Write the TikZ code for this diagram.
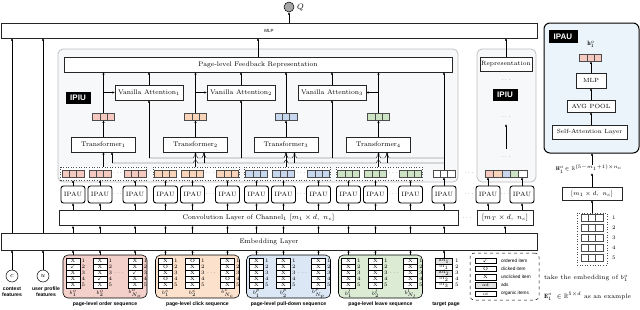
\documentclass[tikz,border=0pt]{standalone}
\usepackage{fontspec}
\setsansfont{Liberation Sans}
\usepackage{amssymb}
\usetikzlibrary{arrows.meta,calc}
\definecolor{vpink}{HTML}{F5C8C0}
\definecolor{vpeach}{HTML}{FAD4B8}
\definecolor{vblue}{HTML}{C7D7EE}
\definecolor{vgreen}{HTML}{CCE3C4}
\definecolor{gpink}{HTML}{F3D0CA}
\definecolor{gpeach}{HTML}{FCE1CD}
\definecolor{gblue}{HTML}{DCE7F6}
\definecolor{ggreen}{HTML}{DCEBD4}
\definecolor{ipiufill}{HTML}{F7F8FA}
\definecolor{ipaufill}{HTML}{EAF4FA}
\definecolor{adgray}{HTML}{E2E2E2}
\newcommand\fmain{\fontsize{6.7}{7.2}\selectfont}
\newcommand\fsmall{\fontsize{5.2}{5.6}\selectfont}
\newcommand\flab{\sffamily\bfseries\fontsize{5.1}{5.9}\selectfont}
\newcommand\fleg{\sffamily\fontsize{4.7}{5}\selectfont}
\newcommand\seqcol[4]{%
  \foreach \sy [count=\i] in {#3} {
    \node[cell] (#1r\i) at (#2,{255+6*\i}) {\sy};
    \node[num] at ({#2+10.5},{255+6*\i}) {\i};
  }
  \node[num] (#1l) at (#2,293.5) {#4};
}
\begin{document}
\begin{tikzpicture}[x=1pt,y=-1pt,
  every node/.style={inner sep=0pt,outer sep=0pt},
  arr/.style={-{Latex[length=2.6pt,width=2.2pt]},line width=0.45pt},
  ln/.style={line width=0.45pt},
  box/.style={draw=black!85,line width=0.55pt,fill=white,font=\fmain},
  ipau/.style={draw,line width=0.9pt,rounded corners=2.5pt,fill=white,minimum width=24pt,minimum height=17pt,font=\fontsize{6.2}{7}\selectfont},
  blk/.style={fill=black,text=white,font=\sffamily\bfseries\fontsize{8}{9}\selectfont,minimum width=25pt,minimum height=12pt},
  vec/.style={draw=black!70,line width=0.4pt,fill=#1,minimum width=22pt,minimum height=7.5pt,
    path picture={\draw[black!70,line width=0.4pt]
      ($(path picture bounding box.north west)!1/3!(path picture bounding box.north east)$) -- ($(path picture bounding box.south west)!1/3!(path picture bounding box.south east)$)
      ($(path picture bounding box.north west)!2/3!(path picture bounding box.north east)$) -- ($(path picture bounding box.south west)!2/3!(path picture bounding box.south east)$);}},
  cell/.style={draw,line width=0.4pt,fill=white,minimum width=14pt,minimum height=6pt,font=\fontsize{4.8}{5}\selectfont},
  num/.style={font=\fsmall},
  dots/.style={font=\fontsize{6}{6}\selectfont,text=black!60},
  grp/.style={draw,line width=0.6pt,rounded corners=5pt,minimum height=43pt,minimum width=84pt},
  dgrp/.style={draw=black!70,dotted,line width=0.6pt,fill=white,minimum height=13pt,minimum width=86pt},
  ipiubox/.style={draw=black!25,line width=0.8pt,fill=ipiufill,rounded corners=5pt,minimum height=133pt},
]
\useasboundingbox (0,0) rectangle (640,309);
% ---------- top ----------
\node[box,minimum width=536pt,minimum height=15pt,font=\sffamily\fontsize{4.5}{5}\selectfont] (mlp) at (269,30.5) {MLP};
\node[circle,draw,fill=black!35,minimum size=10pt,line width=0.5pt] (q) at (289,7) {};
\node[font=\fontsize{8}{9}\selectfont,anchor=west] (ql) at (297,8) {$Q$};
\draw[arr] (q.south |- mlp.north) -- (q.south);
% ---------- IPIU left ----------
\node[ipiubox,minimum width=400pt] (ipiu) at (258,115.5) {};
\node[box,minimum width=388pt,minimum height=15pt] (pfr) at (258,64.5) {Page-level Feedback Representation};
\draw[arr] (pfr.north) -- (pfr.north |- mlp.south);
\node[blk] (ipiul) at (78,97.5) {IPIU};
\foreach \n/\x in {1/149,2/241,3/332}
  \node[box,minimum width=68pt,minimum height=15pt] (va\n) at (\x,92.5) {Vanilla Attention$_\n$};
\foreach \n/\x/\c in {1/103.5/vpink,2/195.5/vpeach,3/286/vblue,4/378.5/vgreen} {
  \node[box,minimum width=64pt,minimum height=15pt] (t\n) at (\x,144.5) {Transformer$_\n$};
  \node[vec=\c] (o\n) at (\x,116.5) {};
  \draw[arr] (t\n.north) -- (o\n.south);
  \draw[arr] (o\n.north) -- (o\n.north |- pfr.south);
  \coordinate (ti\n) at ($(t\n.south)+(8.5,0)$);
}
\draw[arr] (o1.north |- va1.west) -- (va1.west);
\draw[arr] (o2.north |- va2.west) -- (va2.west);
\draw[arr] (o4.north |- va3.east) -- (va3.east);
\foreach \n in {1,2,3} \draw[arr] (va\n.north) -- (va\n.north |- pfr.south);
% ---------- dotted groups, IPAU ----------
\foreach \g/\l/\c in {1/60/vpink,2/152.5/vpeach,3/243.5/vblue,4/335.5/vgreen} {
  \node[dgrp] (d\g) at ({\l+43.5},173.5) {};
  \foreach \k/\o in {1/13,2/40,3/75} {
    \node[vec=\c] (v\g\k) at ({\l+\o},173.5) {};
    \node[ipau] (p\g\k) at ({\l+\o},194.5) {IPAU};
    \draw[arr] (p\g\k.north) -- (p\g\k.north |- d\g.south);
  }
  \node[dots] (dd\g) at ({\l+57.5},173.5) {$\cdots$};
  \node[dots] (dp\g) at ({\l+57.5},194.5) {$\cdots$};
}
% target
\node[vec=white] (vt) at (444,173.5) {};
\node[ipau] (pt) at (444,194.5) {IPAU};
\draw[arr] (pt.north) -- (vt.south);
% transformer inputs and buses
\foreach \n in {1,2,3,4} {
  \draw[arr] (t\n.south |- d\n.north) -- (t\n.south);
}
\coordinate (ba0) at (149,158);
\coordinate (bb0) at (112,163);
\draw[arr] (vt.north) -- (vt.north |- pfr.south);
\draw[ln] (ba0) foreach \h in {195.5,204,286,294.5,378.5,387} { -- ({\h-2},158) .. controls ({\h-2},154.6) and ({\h+2},154.6) .. ({\h+2},158) } -- (vt.north |- ba0);
\draw[ln] (bb0) foreach \h in {195.5,286,378.5} { -- ({\h-2},163) .. controls ({\h-2},159.6) and ({\h+2},159.6) .. ({\h+2},163) } -- (vt.north |- bb0);
\foreach \n in {1,2,3} \draw[arr] (va\n.south |- ba0) -- (va\n.south);
\foreach \n in {1,2,3,4} \draw[arr] (ti\n |- bb0) -- (ti\n);
% ---------- IPIU right ----------
\node[ipiubox,minimum width=59pt] (ipiu2) at (506.5,115.5) {};
\node[box,minimum width=52pt,minimum height=14pt,font=\fontsize{6.2}{7}\selectfont] (rep) at (506,64) {Representation};
\draw[arr] (rep.north) -- (rep.north |- mlp.south);
\node[dots] (dr1) at (506,80) {$\cdots$};
\node[blk] (ipiul2) at (505,94.5) {IPIU};
\node[dots,minimum height=14pt] (dr2) at (506,117) {$\cdots$};
\node[dots,minimum height=16pt] (dr3) at (506,157) {$\cdots$};
\draw[arr] (dr3.north) -- (dr2.south);
\foreach \i/\c in {1/vpink,2/vpeach,3/vblue,4/vgreen,5/white}
  \node[draw=black!70,line width=0.4pt,fill=\c,minimum width=8.4pt,minimum height=7.5pt] (cr\i) at ({480.8+8.4*\i},173.5) {};
\node[dots] (dm1) at (469,173.5) {$\cdots$};
\node[ipau] (pr1) at (488,194.5) {IPAU};
\node[ipau] (pr2) at (522,194.5) {IPAU};
\node[dots] (dm2) at (469,194.5) {$\cdots$};
\node[dots] (dm3) at (505,194.5) {$\cdots$};
\draw[arr] (pr1.north) -- (pr1.north |- cr1.south);
\draw[arr] (pr2.north) -- (pr2.north |- cr5.south);
% ---------- conv / embedding ----------
\node[box,minimum width=399pt,minimum height=15.5pt] (conv1) at (258.5,218) {Convolution Layer of Channel$_1$ $[m_1\times d,\ n_c]$};
\node[dots] (dm4) at (467,218) {$\cdots$};
\node[box,minimum width=56pt,minimum height=15.5pt] (conv2) at (505,218) {$[m_T\times d,\ n_c]$};
\node[box,minimum width=536pt,minimum height=17pt] (emb) at (269,241.5) {Embedding Layer};
\foreach \g in {1,2,3,4} \foreach \k in {1,2,3} {
  \draw[arr] (p\g\k.south |- conv1.north) -- (p\g\k.south);
  \draw[arr] (p\g\k.south |- emb.north) -- (p\g\k.south |- conv1.south);
}
\draw[arr] (pt.south |- conv1.north) -- (pt.south);
\draw[arr] (pt.south |- emb.north) -- (pt.south |- conv1.south);
\draw[arr] (pr1.south |- conv2.north) -- (pr1.south);
\draw[arr] (pr2.south |- conv2.north) -- (pr2.south);
\draw[arr] (conv2.south |- emb.north) -- (conv2.south);
% ---------- context / user ----------
\node[circle,draw,line width=0.5pt,minimum size=12pt,font=\fmain] (cc) at (12,276) {$c$};
\node[circle,draw,line width=0.5pt,minimum size=12pt,font=\fmain] (cu) at (43,276) {$u$};
\node[font=\flab,align=center] (ccl) at (12,292) {context\\features};
\node[font=\flab,align=center] (cul) at (46,292) {user profile\\features};
\draw[arr] (cc.north) -- (cc.north |- emb.south);
\draw[arr] (cu.north) -- (cu.north |- emb.south);
\draw[arr] (cc.north |- emb.north) -- (cc.north |- mlp.south);
\draw[arr] (cu.north |- emb.north) -- (cu.north |- mlp.south);
% ---------- behaviour sequences ----------
\foreach \g/\l/\c/\t in {1/60/gpink/page-level order sequence,2/152.5/gpeach/page-level click sequence,3/243.5/gblue/page-level pull-down sequence,4/335.5/ggreen/page-level leave sequence} {
  \node[grp,fill=\c] (b\g) at ({\l+45},276.5) {};
  \node[font=\flab] (bl\g) at ({\l+45},304.5) {\t};
  \node[dots] (bd\g) at ({\l+59},273) {$\cdots$};
  \foreach \k in {1,2,3}
    \draw[arr] (p\g\k.south |- b\g.north) -- (p\g\k.south |- emb.south);
}
\seqcol{a1}{73}{X,$\checkmark$,X,X,X}{$b^o_1$}
\seqcol{a2}{100}{X,X,X,$\checkmark$,X}{$b^o_2$}
\seqcol{a3}{135}{X,X,$\checkmark$,X,X}{$b^o_{N_o}$}
\seqcol{c1}{165.5}{X,O,X,O,X}{$b^c_1$}
\seqcol{c2}{192.5}{O,X,X,X,X}{$b^c_2$}
\seqcol{c3}{227.5}{X,X,X,O,X}{$b^c_{N_c}$}
\seqcol{e1}{256.5}{X,X,X,X,X}{$b^p_1$}
\seqcol{e2}{283.5}{X,X,X,X,X}{$b^p_2$}
\seqcol{e3}{318.5}{X,X,X,X,X}{$b^p_{N_p}$}
\seqcol{f1}{348.5}{X,X,X,X,X}{$b^l_1$}
\seqcol{f2}{375.5}{X,X,X,X,X}{$b^l_2$}
\seqcol{f3}{410.5}{X,X,X,X,X}{$b^l_{N_l}$}
% target page
\foreach \sy/\fc [count=\i] in {ad$_1$/adgray,oi$_1$/white,ad$_2$/adgray,oi$_2$/white,oi$_3$/white} {
  \node[cell,minimum width=17pt,fill=\fc] (tr\i) at (444,{255+6*\i}) {\sy};
  \node[num] at (457,{255+6*\i}) {\i};
}
\node[font=\flab] (trl) at (446,304.5) {target page};
\draw[arr] (tr1.north) -- (tr1.north |- emb.south);
% ---------- legend ----------
\node[draw,dashed,line width=0.5pt,rounded corners=4pt,minimum width=69pt,minimum height=47pt] (leg) at (504.5,276.5) {};
\foreach \sy/\t/\fc [count=\i] in {$\checkmark$/ordered item/white,O/clicked item/white,X/unclicked item/white,ad/ads/adgray,oi/organic items/white} {
  \node[cell,minimum width=21pt,minimum height=5.5pt,fill=\fc] (lg\i) at (485.5,{252.5+8.2*\i}) {\sy};
  \node[font=\fleg,anchor=west] (lt\i) at (501,{252.5+8.2*\i}) {\t};
}
% ---------- IPAU detail panel ----------
\node[draw,line width=1pt,rounded corners=6pt,fill=ipaufill,minimum width=95pt,minimum height=130pt] (pan) at (591.5,88) {};
\node[blk,minimum width=29pt,minimum height=13pt] (panl) at (563,36.5) {IPAU};
\node[font=\fontsize{6.2}{6.5}\selectfont] (hl) at (591,44.5) {$\mathbf{h}^o_1$};
\node[vec=vpink] (hv) at (590.5,57.5) {};
\node[box,minimum width=30pt,minimum height=15pt,font=\fontsize{6}{7}\selectfont] (pmlp) at (591,80.5) {MLP};
\node[box,minimum width=48pt,minimum height=12pt,font=\fontsize{6}{7}\selectfont] (pavg) at (591,106) {AVG POOL};
\node[box,minimum width=75pt,minimum height=14pt,font=\fontsize{6}{7}\selectfont] (psa) at (589.5,132) {Self-Attention Layer};
\draw[arr] (psa.north -| pavg.south) -- (pavg.south);
\draw[arr] (pavg.north) -- (pmlp.south);
\draw[arr] (pmlp.north) -- (pmlp.north |- hv.south);
\node[font=\fsmall] (hlab) at (589,169) {$\mathbf{H}^o_1\!\in\mathbb{R}^{(5-m_1+1)\times n_c}$};
\node[box,minimum width=60pt,minimum height=13pt,font=\fontsize{6}{7}\selectfont] (pbox) at (592,193.5) {$[m_1\times d,\ n_c]$};
\draw[arr] (pbox.north |- hlab.north) -- (pbox.north |- pan.south);
\draw[arr] (pbox.north) -- (pbox.north |- hlab.south);
\node[draw=black!70,dotted,line width=0.6pt,minimum width=30pt,minimum height=52pt] (mat) at (592,239) {};
\draw[arr] (mat.north) -- (pbox.south);
\foreach \i in {1,...,5} {
  \node[vec=white,minimum height=7pt] (mr\i) at (592,{208+10*\i}) {};
  \node[num] at (614,{208+10*\i}) {\i};
}
\node[font=\fontsize{6.2}{7}\selectfont,anchor=west] (tx1) at (544,278.5) {take the embedding of $b_1^o$};
\node[font=\fontsize{6.2}{7}\selectfont,anchor=west] (tx2) at (544,296) {$\mathbf{E}^o_1\ \in\mathbb{R}^{5\times d}$ as an example};
\end{tikzpicture}
\end{document}
